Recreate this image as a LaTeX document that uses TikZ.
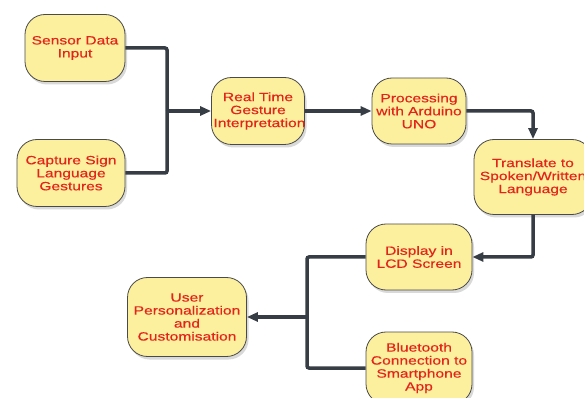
\documentclass[tikz,border=0pt]{standalone}
\usepackage{fontspec}
\setmainfont{Liberation Sans}
\newfontfamily\boxfont[FakeStretch=1.3, FakeBold=0.4]{Liberation Sans}
\usepackage{xcolor}
\usetikzlibrary{arrows.meta,positioning,shadows}

\definecolor{boxfill}{HTML}{FCF09E}
\definecolor{boxline}{HTML}{4A4A4A}
\definecolor{txtred}{HTML}{E3241B}
\definecolor{wire}{HTML}{373D45}

\begin{document}
\begin{tikzpicture}[
    x=1pt, y=-1pt,
    block/.style={draw=boxline, line width=0.8pt, fill=boxfill, rounded corners=20pt, align=center,
      text=txtred, inner xsep=2pt, font=\boxfont\fontsize{12}{13}\selectfont,
      drop shadow={shadow xshift=2pt, shadow yshift=-3pt, opacity=0.25, fill=black!60}},
    arrow/.style={-{Triangle[length=11pt, width=9pt]}, line width=3.5pt, draw=wire, rounded corners=2pt},
    wireline/.style={line width=3.5pt, draw=wire, rounded corners=2pt}
]
\useasboundingbox (0,0) rectangle (584,398);

\node[block, minimum width=100pt, minimum height=67pt] (sensor) at (75,48) {Sensor Data\\Input};
\node[block, minimum width=108pt, minimum height=67pt] (capture) at (71,173) {Capture Sign\\Language\\Gestures};
\node[block, text width=89pt, minimum height=67pt] (realtime) at (258,111) {Real Time\\Gesture\\Interpretation};
\node[block, text width=90pt, minimum height=66pt] (arduino) at (419,111) {Processing\\with Arduino\\UNO};
\node[block, minimum width=118pt, minimum height=75pt] (translate) at (533,177) {Translate to\\Spoken/Written\\Language};
\node[block, minimum width=106pt, minimum height=66pt] (lcd) at (419,257) {Display in\\LCD Screen};
\node[block, minimum width=119pt, minimum height=79pt] (user) at (187,317) {User\\Personalization\\and\\Customisation};
\node[block, minimum width=106pt, minimum height=72pt] (bluetooth) at (419,368) {Bluetooth\\Connection to\\Smartphone\\App};

\coordinate (join) at (167,111);
\coordinate (split) at (307,317);

\draw[wireline] (sensor.east) -| (join);
\draw[wireline] (capture.east) -| (join);
\draw[arrow] (join) -- (realtime.west);
\draw[arrow] (realtime.east) -- (arduino.west);
\draw[arrow] (arduino.east) -| (translate.north);
\draw[arrow] (translate.south) |- (lcd.east);
\draw[wireline] (lcd.west) -| (split);
\draw[wireline] (bluetooth.west) -| (split);
\draw[arrow] (split) -- (user.east);
\end{tikzpicture}
\end{document}
